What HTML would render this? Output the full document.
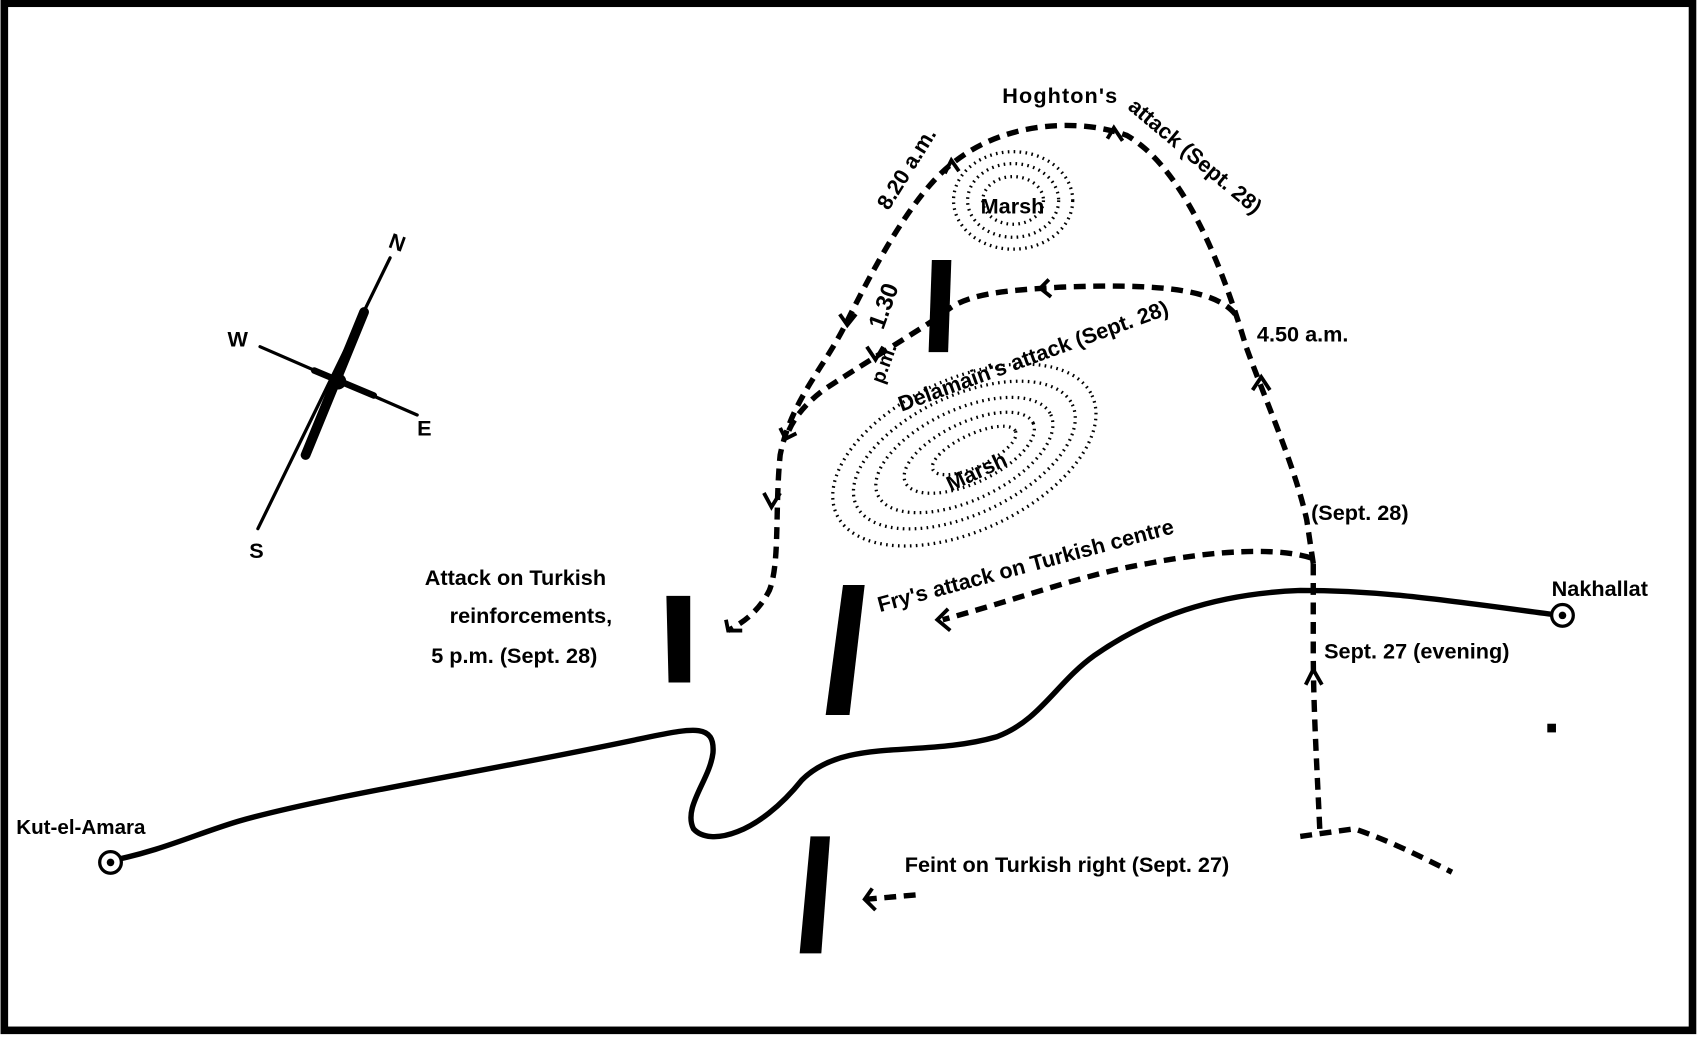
<!DOCTYPE html>
<html><head><meta charset="utf-8"><style>
html,body{margin:0;padding:0;background:#fff;}
svg{display:block;}
text{font-family:"Liberation Sans",sans-serif;fill:#000;}
</style></head><body>
<svg width="1699" height="1039" viewBox="0 0 1568 959" preserveAspectRatio="none" xmlns="http://www.w3.org/2000/svg">
<rect x="0" y="0" width="1568" height="959" fill="#fff"/>
<rect x="4" y="3" width="1558" height="948" fill="none" stroke="#000" stroke-width="7"/>
<g stroke="#000" stroke-linecap="round">
<line x1="360" y1="238" x2="238" y2="488" stroke-width="3"/>
<line x1="336" y1="288" x2="282" y2="420" stroke-width="9"/>
<line x1="240" y1="320" x2="385" y2="383" stroke-width="3"/>
<line x1="290" y1="342" x2="345" y2="365" stroke-width="6"/>
<circle cx="312" cy="352" r="7" fill="#000"/>
</g>
<text x="360" y="230" font-size="20" font-weight="bold" transform="rotate(20 365 222)">N</text>
<text x="210" y="320" font-size="20" font-weight="bold">W</text>
<text x="385" y="402" font-size="20" font-weight="bold">E</text>
<text x="230" y="515" font-size="20" font-weight="bold">S</text>
<path d="M100,795 C150,785 180,770 220,758 C300,735 450,712 600,680 C640,672 660,668 658,695 C655,720 630,745 640,765 C655,782 700,770 740,720 C780,680 850,700 920,680 C960,665 975,630 1010,605 C1060,570 1120,548 1200,545 C1280,545 1340,555 1440,568" fill="none" stroke="#000" stroke-width="5"/>
<circle cx="102" cy="796" r="10" fill="#fff" stroke="#000" stroke-width="3"/><circle cx="102" cy="796" r="3.5" fill="#000"/>
<circle cx="1442" cy="568" r="10" fill="#fff" stroke="#000" stroke-width="3"/><circle cx="1442" cy="568" r="3.5" fill="#000"/>
<g fill="#000">
<polygon points="860,240 878,240 875,325 857,325"/>
<polygon points="615,550 637,550 637,630 617,630"/>
<polygon points="778,540 798,540 784,660 762,660"/>
<polygon points="748,772 766,772 758,880 738,880"/>
</g>
<ellipse cx="935" cy="185" rx="55" ry="45" fill="none" stroke="#000" stroke-width="3" stroke-dasharray="1.5 4"/>
<ellipse cx="935" cy="185" rx="42" ry="34" fill="none" stroke="#000" stroke-width="3" stroke-dasharray="1.5 4"/>
<ellipse cx="935" cy="185" rx="28" ry="22" fill="none" stroke="#000" stroke-width="3" stroke-dasharray="1.5 4"/>
<g transform="rotate(-25 890 420)" fill="none" stroke="#000" stroke-width="3" stroke-dasharray="1.5 4">
<ellipse cx="890" cy="420" rx="130" ry="70"/>
<ellipse cx="890" cy="420" rx="110" ry="55"/>
<ellipse cx="890" cy="420" rx="88" ry="42"/>
<ellipse cx="895" cy="420" rx="65" ry="28"/>
<ellipse cx="900" cy="420" rx="42" ry="15"/>
</g>
<text x="905" y="197" font-size="20" font-weight="bold">Marsh</text>
<text x="870" y="440" font-size="20" font-weight="bold" transform="rotate(-25 905 430)">Marsh</text>
<g fill="none" stroke="#000" stroke-width="5" stroke-dasharray="11 7">
<path d="M1212,520 L1206,480 C1195,430 1168,370 1150,320 C1135,270 1100,160 1040,125 C1000,110 930,110 880,150 C840,180 800,260 780,300 C760,340 730,370 720,420 C715,470 720,520 710,545 C700,565 685,575 672,582"/>
<path d="M1140,290 C1120,265 1060,262 980,265 C930,268 890,270 870,290 C840,310 790,340 760,360 C740,375 730,390 725,405"/>
<path d="M1218,765 C1215,700 1212,650 1212,600 L1212,520"/>
<path d="M1210,515 C1180,505 1120,508 1060,520 C1000,530 950,550 870,572"/>
<path d="M1200,772 L1250,765 C1280,775 1310,790 1340,805"/>
<path d="M845,826 L800,830"/>
</g>
<g fill="none" stroke="#000" stroke-width="3.5">
<path d="M1022,128 L1028,118 L1036,130"/>
<path d="M872,160 L878,148 L885,158"/>
<path d="M968,258 L960,266 L970,274"/>
<path d="M775,290 L782,300 L790,290"/>
<path d="M800,320 L808,332 L815,320"/>
<path d="M720,395 L725,405 L735,400"/>
<path d="M705,455 L712,468 L720,455"/>
<path d="M670,572 L672,582 L685,582"/>
<path d="M875,562 L865,572 L877,582"/>
<path d="M1156,360 L1164,348 L1172,360"/>
<path d="M1205,632 L1212,618 L1220,632"/>
<path d="M805,820 L798,830 L808,840"/>
</g>
<g font-size="20" font-weight="bold">
<text x="925" y="95" letter-spacing="1">Hoghton's</text>
<text transform="translate(1040,100) rotate(40)">attack (Sept. 28)</text>
<text transform="translate(820,195) rotate(-58)">8.20 a.m.</text>
<text x="1160" y="315">4.50 a.m.</text>
<text transform="translate(832,380) rotate(-20)">Delamain's attack (Sept. 28)</text>
<text transform="translate(815,305) rotate(-70)" font-size="22">1.30</text>
<text transform="translate(815,355) rotate(-70)" font-size="18">p.m.</text>
<text transform="translate(812,565) rotate(-15)">Fry's attack on Turkish centre</text>
<text x="1210" y="480">(Sept. 28)</text>
<text x="1432" y="550" font-family="Liberation Serif">Nakhallat</text>
<text x="1222" y="608">Sept. 27 (evening)</text>
<text x="392" y="540">Attack on Turkish</text>
<text x="415" y="575">reinforcements,</text>
<text x="398" y="612">5 p.m. (Sept. 28)</text>
<text x="15" y="770" font-family="Liberation Serif" font-size="19">Kut-el-Amara</text>
<text x="835" y="805">Feint on Turkish right (Sept. 27)</text>
</g>
<rect x="1428" y="668" width="8" height="8" fill="#000"/>
</svg>
</body></html>
